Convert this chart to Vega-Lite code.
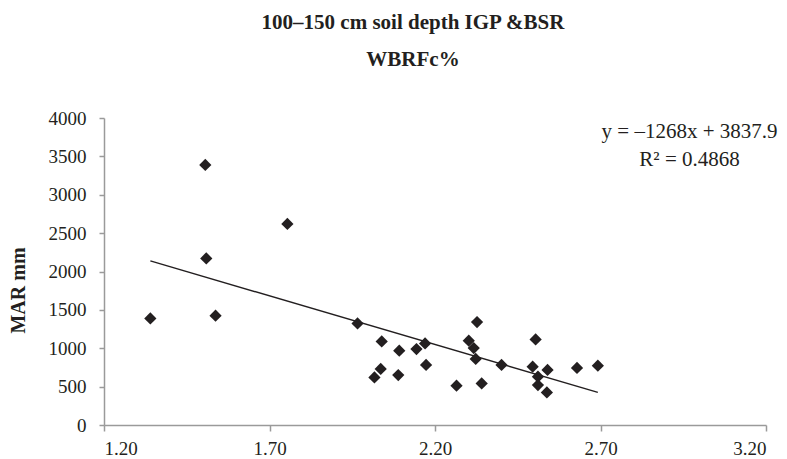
{
  "$schema": "https://vega.github.io/schema/vega-lite/v6.json",
  "width": 662,
  "height": 307,
  "autosize": {"type": "none"},
  "padding": {"left": 104, "top": 118, "right": 21, "bottom": 34},
  "background": "white",
  "title": {
    "text": ["100–150 cm soil depth IGP &BSR", "WBRFc%"],
    "font": "Liberation Serif",
    "fontSize": 21,
    "fontWeight": "bold",
    "color": "#231f20",
    "lineHeight": 37,
    "anchor": "middle",
    "dx": -22,
    "offset": 39
  },
  "datasets": {
    "pts": [
      {"x": 1.34, "y": 1389},
      {"x": 1.506, "y": 3388},
      {"x": 1.509, "y": 2171},
      {"x": 1.537, "y": 1424},
      {"x": 1.754, "y": 2619},
      {"x": 1.966, "y": 1324},
      {"x": 2.039, "y": 1089},
      {"x": 2.036, "y": 730},
      {"x": 2.017, "y": 620},
      {"x": 2.092, "y": 968},
      {"x": 2.089, "y": 651},
      {"x": 2.144, "y": 990},
      {"x": 2.17, "y": 1063},
      {"x": 2.173, "y": 782},
      {"x": 2.265, "y": 512},
      {"x": 2.327, "y": 1342},
      {"x": 2.302, "y": 1098},
      {"x": 2.317, "y": 1003},
      {"x": 2.323, "y": 860},
      {"x": 2.341, "y": 542},
      {"x": 2.401, "y": 782},
      {"x": 2.504, "y": 1115},
      {"x": 2.495, "y": 760},
      {"x": 2.511, "y": 629},
      {"x": 2.511, "y": 521},
      {"x": 2.54, "y": 717},
      {"x": 2.538, "y": 425},
      {"x": 2.629, "y": 743},
      {"x": 2.692, "y": 773}
    ],
    "trend": [
      {"x": 1.34, "y": 2138.8},
      {"x": 2.692, "y": 424.4}
    ],
    "eq": [
      {"x": 2.969, "y": 3743, "label": "y = –1268x + 3837.9"},
      {"x": 2.969, "y": 3379, "label": "R² = 0.4868"}
    ]
  },
  "config": {
    "view": {"stroke": null},
    "axis": {
      "grid": false,
      "domainColor": "#9a9a9a",
      "tickColor": "#9a9a9a",
      "domainWidth": 1.5,
      "tickWidth": 1.5,
      "labelFont": "Liberation Serif",
      "labelFontSize": 19,
      "labelColor": "#231f20",
      "titleFont": "Liberation Serif",
      "titleColor": "#231f20"
    }
  },
  "encoding": {
    "x": {
      "field": "x", "type": "quantitative",
      "scale": {"domain": [1.2, 3.2], "nice": false, "zero": false},
      "axis": {"values": [1.2, 1.7, 2.2, 2.7, 3.2], "format": ".2f", "title": null, "tickSize": 6, "labelPadding": 8, "labelOverlap": false}
    },
    "y": {
      "field": "y", "type": "quantitative",
      "scale": {"domain": [0, 4000], "nice": false},
      "axis": {"values": [0, 500, 1000, 1500, 2000, 2500, 3000, 3500, 4000], "format": "d", "labelOverlap": false, "title": "MAR mm", "titleFontSize": 20, "titleFontWeight": "bold", "tickSize": 5, "labelPadding": 13, "titleX": -86, "titleY": 172, "titleAlign": "center", "titleBaseline": "middle", "titleAngle": -90}
    }
  },
  "layer": [
    {
      "data": {"name": "trend"},
      "mark": {"type": "line", "color": "#231f20", "strokeWidth": 1.4}
    },
    {
      "data": {"name": "pts"},
      "mark": {"type": "point", "shape": "diamond", "filled": true, "color": "#231f20", "opacity": 1, "size": 150}
    },
    {
      "data": {"name": "eq"},
      "mark": {"type": "text", "font": "Liberation Serif", "fontSize": 21, "color": "#231f20", "align": "center", "baseline": "alphabetic"},
      "encoding": {
        "text": {"field": "label"}
      }
    }
  ]
}
